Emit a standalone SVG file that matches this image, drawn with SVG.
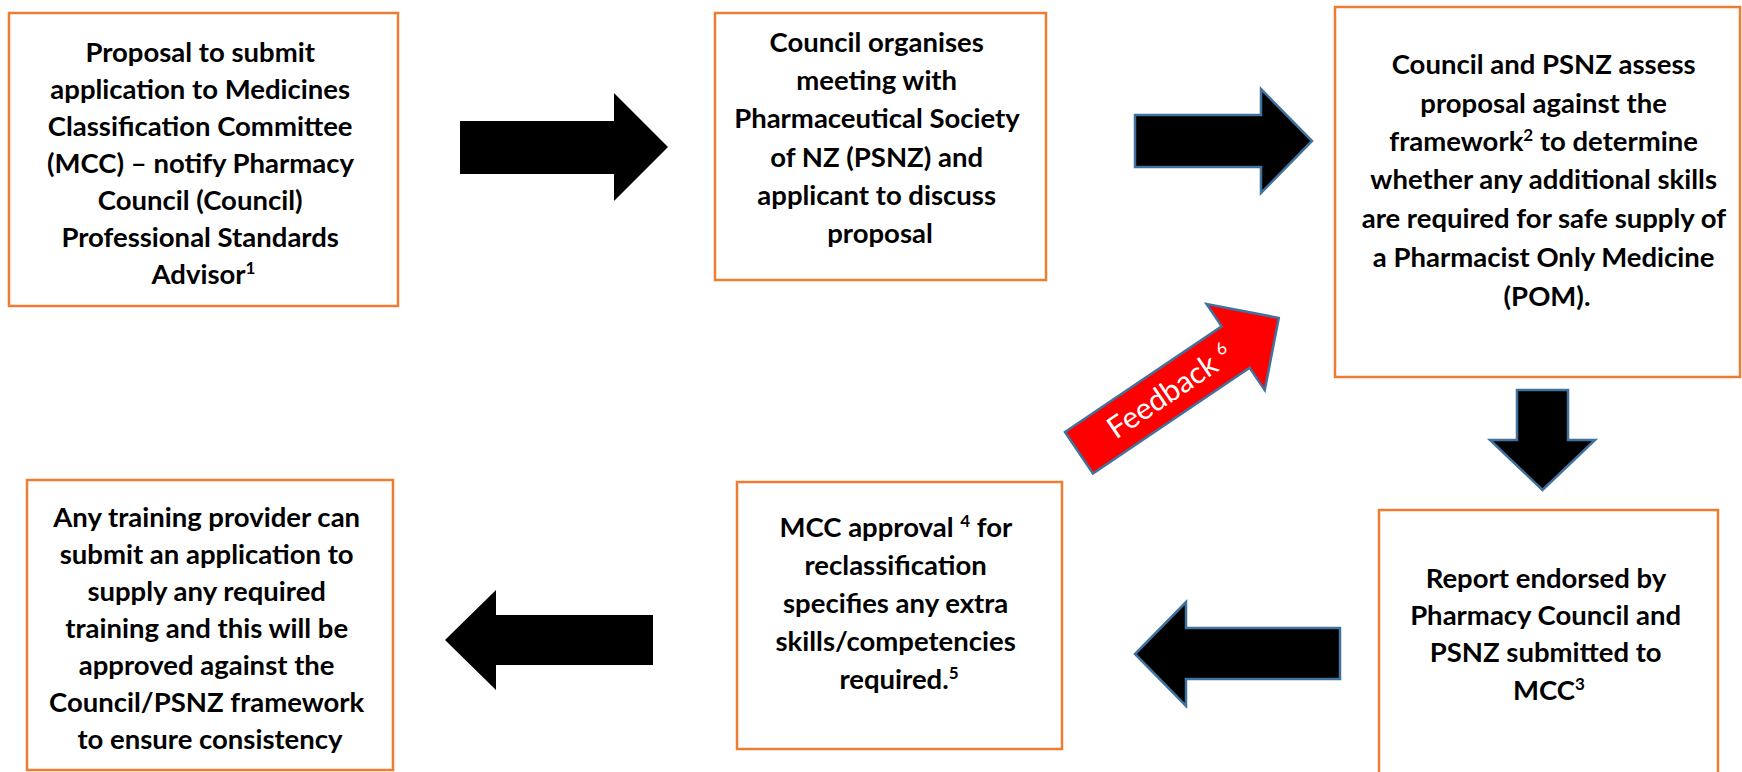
<svg xmlns="http://www.w3.org/2000/svg" width="1742" height="772" viewBox="0 0 1742 772">
  <style>
    .box { fill: #FFFFFF; stroke: #ED7D31; stroke-width: 2.5; }
    .t { font-family: Lato, "Open Sans", "Liberation Sans", sans-serif; font-weight: bold; font-size: 27.5px; fill: #000000; text-anchor: middle; }
    .sup { font-size: 17px; }
    .arr { fill: #000000; }
    .arr-o { fill: #000000; stroke: #41719C; stroke-width: 2.5; stroke-linejoin: miter; }
    .fb { fill: #FF0000; stroke: #41719C; stroke-width: 2.5; }
    .fbt { font-family: Lato, "Open Sans", "Liberation Sans", sans-serif; font-size: 30px; fill: #FFFFFF; }
  </style>
  <rect x="0" y="0" width="1742" height="772" fill="#FFFFFF"/>

  <g id="node-proposal">
    <rect class="box" x="9" y="13" width="389" height="293"/>
    <text class="t">
      <tspan x="203.5" y="62">Proposal to submit</tspan>
      <tspan x="203.5" y="99">application to Medicines</tspan>
      <tspan x="203.5" y="136">Classification Committee</tspan>
      <tspan x="203.5" y="173">(MCC) – notify Pharmacy</tspan>
      <tspan x="203.5" y="210">Council (Council)</tspan>
      <tspan x="203.5" y="247">Professional Standards</tspan>
      <tspan x="203.5" y="284">Advisor<tspan class="sup" dy="-10">1</tspan></tspan>
    </text>
  </g>

  <g id="node-meeting">
    <rect class="box" x="715" y="13" width="331" height="267"/>
    <text class="t">
      <tspan x="880" y="52">Council organises</tspan>
      <tspan x="880" y="90">meeting with</tspan>
      <tspan x="880" y="128">Pharmaceutical Society</tspan>
      <tspan x="880" y="167">of NZ (PSNZ) and</tspan>
      <tspan x="880" y="205">applicant to discuss</tspan>
      <tspan x="880" y="243">proposal</tspan>
    </text>
  </g>

  <g id="node-assess">
    <rect class="box" x="1335" y="7" width="405" height="370"/>
    <text class="t">
      <tspan x="1547" y="74">Council and PSNZ assess</tspan>
      <tspan x="1547" y="113">proposal against the</tspan>
      <tspan x="1547" y="151">framework<tspan class="sup" dy="-10">2</tspan><tspan dy="10"> to determine</tspan></tspan>
      <tspan x="1547" y="189">whether any additional skills</tspan>
      <tspan x="1547" y="228">are required for safe supply of</tspan>
      <tspan x="1547" y="267">a Pharmacist Only Medicine</tspan>
      <tspan x="1547" y="306">(POM).</tspan>
    </text>
  </g>

  <g id="node-report">
    <rect class="box" x="1379" y="510" width="339" height="275"/>
    <text class="t">
      <tspan x="1549" y="588">Report endorsed by</tspan>
      <tspan x="1549" y="625">Pharmacy Council and</tspan>
      <tspan x="1549" y="662">PSNZ submitted to</tspan>
      <tspan x="1549" y="700">MCC<tspan class="sup" dy="-10">3</tspan></tspan>
    </text>
  </g>

  <g id="node-approval">
    <rect class="box" x="737" y="482" width="325" height="267"/>
    <text class="t">
      <tspan x="899" y="537">MCC approval <tspan class="sup" dy="-10">4</tspan><tspan dy="10"> for</tspan></tspan>
      <tspan x="899" y="575">reclassification</tspan>
      <tspan x="899" y="613">specifies any extra</tspan>
      <tspan x="899" y="651">skills/competencies</tspan>
      <tspan x="899" y="689">required.<tspan class="sup" dy="-10">5</tspan></tspan>
    </text>
  </g>

  <g id="node-training">
    <rect class="box" x="27" y="480" width="366" height="290"/>
    <text class="t">
      <tspan x="210" y="527">Any training provider can</tspan>
      <tspan x="210" y="564">submit an application to</tspan>
      <tspan x="210" y="601">supply any required</tspan>
      <tspan x="210" y="638">training and this will be</tspan>
      <tspan x="210" y="675">approved against the</tspan>
      <tspan x="210" y="712">Council/PSNZ framework</tspan>
      <tspan x="210" y="749">to ensure consistency</tspan>
    </text>
  </g>

  <g id="connectors">
    <polygon id="arrow-1" class="arr" points="460,121 614,121 614,93 668,147 614,201 614,174 460,174"/>
    <polygon id="arrow-2" class="arr-o" points="1135,115 1261,115 1261,89 1312,141 1261,193 1261,167 1135,167"/>
    <polygon id="arrow-3" class="arr-o" points="1517,390 1568,390 1568,440 1595,440 1542.5,490 1490,440 1517,440"/>
    <polygon id="arrow-4" class="arr-o" points="1340,628 1186,628 1186,602 1135,654 1186,706 1186,679 1340,679"/>
    <polygon id="arrow-5" class="arr" points="653,615 496,615 496,590 445,640 496,690 496,665 653,665"/>
    <g id="arrow-feedback" transform="translate(1065,432) rotate(-34)">
      <polygon class="fb" points="0,0 189,0 189,-27 241,25 189,77 189,50 0,50"/>
      <text class="fbt" x="38" y="35">Feedback <tspan font-size="17" dy="-11">6</tspan></text>
    </g>
  </g>
</svg>
